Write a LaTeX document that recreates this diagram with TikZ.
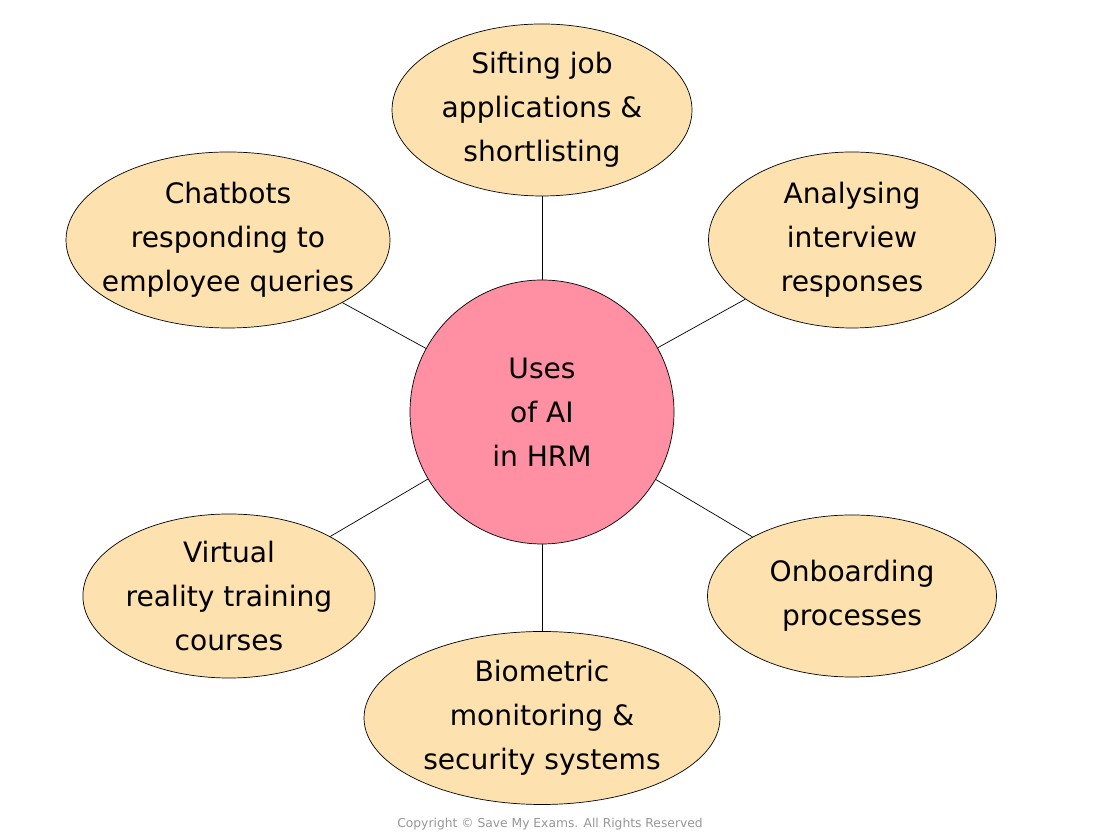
\documentclass[tikz,border=0pt]{standalone}
\usepackage{fontspec}
\setmainfont{DejaVu Sans}
\usetikzlibrary{shapes, shapes.geometric, positioning, calc}
\definecolor{softpeach}{RGB}{253, 225, 174}
\definecolor{softpink}{RGB}{255, 143, 163}
\definecolor{copygray}{RGB}{150, 150, 150}

\begin{document}
\begin{tikzpicture}[
        font=\fontsize{16}{25}\selectfont,
        hub/.style={
            circle,
            minimum size=5.28cm,
            align=center,
            draw=black,
            thin,
            fill=softpink
        },
        usecase/.style={
            ellipse,
            inner sep=0pt,
            align=center,
            draw=black,
            thin,
            fill=softpeach
        },
        spoke/.style={
            draw=black,
            thin
        }
    ]
        \useasboundingbox (0, 0) rectangle (22, 16.72);

        \node[hub] (hrm) at (10.84, 8.48) {Uses\\of AI\\in HRM};
        \node[usecase, minimum width=6cm, minimum height=3.44cm] (sifting) at (10.84, 14.52) {Sifting job\\applications \&\\shortlisting};
        \node[usecase, inner xsep=-0.55cm, minimum width=6.48cm, minimum height=3.52cm] (chatbots) at (4.56, 11.92) {Chatbots\\responding to\\employee queries};
        \node[usecase, minimum width=5.74cm, minimum height=3.52cm] (analysing) at (17.04, 11.92) {Analysing\\interview\\responses};
        \node[usecase, minimum width=5.76cm, minimum height=3.28cm] (virtual) at (4.58, 4.8) {Virtual\\reality training\\courses};
        \node[usecase, minimum width=5.78cm, minimum height=3.24cm] (onboarding) at (17.04, 4.8) {Onboarding\\processes};
        \node[usecase, minimum width=7.12cm, minimum height=3.46cm] (biometric) at (10.84, 2.36) {Biometric\\monitoring \&\\security systems};

        \foreach \target in {sifting, chatbots, analysing, virtual, onboarding, biometric}
            \draw[spoke] (hrm) -- (\target);

        \node[text=copygray, font=\fontsize{7}{8}\selectfont] (copyright) at (11, 0.24) {Copyright \textcopyright{} Save My Exams. All Rights Reserved};
    \end{tikzpicture}
\end{document}
